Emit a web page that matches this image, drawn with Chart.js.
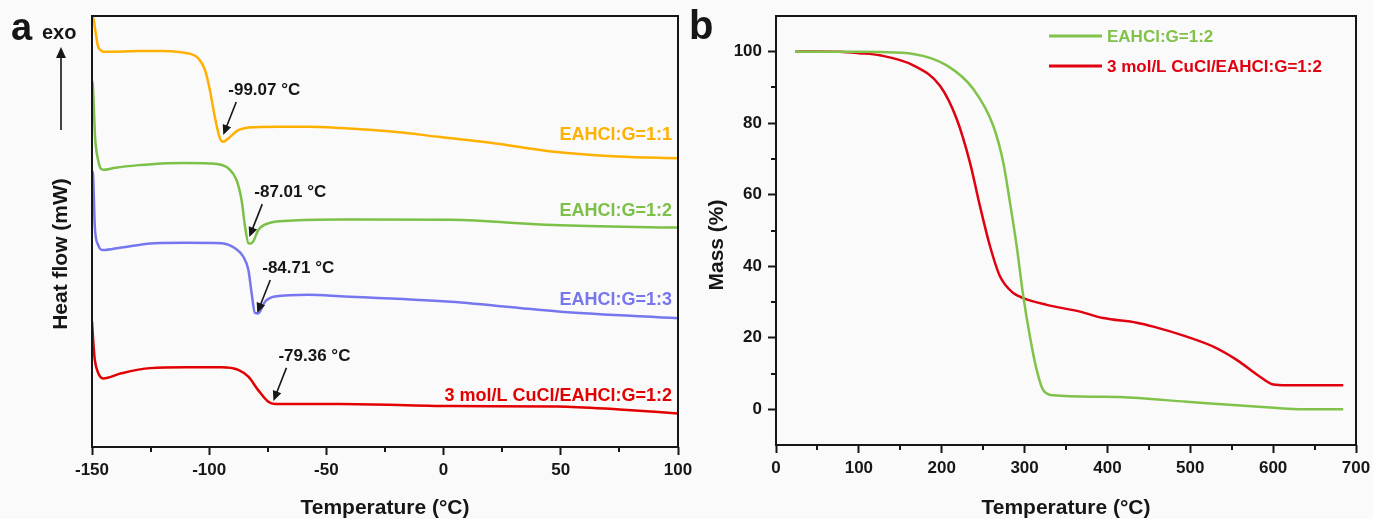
<!DOCTYPE html>
<html>
<head>
<meta charset="utf-8">
<script src="https://cdn.jsdelivr.net/npm/chart.js@4.4.0/dist/chart.umd.min.js"></script>
<style>
    body { margin: 0; background: #fafafa; }
    #wrap { position: relative; width: 1373px; height: 519px; }
    canvas { position: absolute; top: 0; }
    #dscChart { left: 0; }
    #tgaChart { left: 686px; }
</style>
</head>
<body>
<div id="wrap">
    <canvas id="dscChart" width="700" height="519"></canvas>
    <canvas id="tgaChart" width="687" height="519"></canvas>
</div>
<script>
// ---- (a) DSC data: temperature (°C) and heat flow (arb. units, 0-100 of the panel) ----
const dscLabels = ['EAHCl:G=1:1', 'EAHCl:G=1:2', 'EAHCl:G=1:3', '3 mol/L CuCl/EAHCl:G=1:2'];
const dscColors = ['#FFB000', '#7CC048', '#7676EE', '#E30000'];

const temp11 = [-150, -149.2, -148.6, -147.4, -146.2, -145.3, -140, -130, -120, -112, -108, -104.7, -101.8, -99.7, -97.6, -95.4, -94, -91.9, -87.6, -80.5, -70, -57.7, -44, -20, -1.3, 20, 47, 74.4, 100];
const flow11 = [100, 99, 96.7, 92.9, 92, 91.7, 91.7, 91.9, 91.9, 91.6, 91.2, 90.2, 87.5, 82.8, 76.6, 71.6, 70.8, 71.6, 73.5, 74.2, 74.3, 74.3, 74, 73.1, 71.9, 70.6, 68.5, 67.4, 67];

const temp12 = [-150, -149.6, -149.2, -148.7, -147.4, -146.5, -145.3, -140, -130, -120, -110, -100, -95, -91.9, -88.3, -86.2, -84.7, -83.3, -82.3, -81.2, -79.1, -74.8, -66.2, -44, 3, 47, 100];
const flow12 = [85, 83.6, 78.5, 72, 66.6, 64.8, 64.3, 64.8, 65.4, 65.8, 65.9, 65.8, 65.5, 64.7, 61.9, 57.3, 51.1, 47.3, 47.2, 47.7, 50.3, 51.9, 52.5, 52.8, 52.7, 51.5, 50.9];

const temp13 = [-150, -149.6, -148.8, -147.4, -145.3, -137.5, -123.2, -110, -94.7, -89, -85.5, -83.3, -81.9, -80.5, -79.1, -76.2, -72, -57.7, -44, 3, 50, 100];
const flow13 = [64, 63.5, 51.1, 46.9, 45.7, 46.3, 47.3, 47.4, 47.3, 46.1, 44.2, 41.1, 35.7, 31.1, 31, 33.7, 34.9, 35.3, 35, 33.7, 31.4, 29.9];

const tempCu = [-150, -149.4, -148.8, -147.3, -145.3, -137.5, -125.2, -110, -94.7, -87.6, -83.3, -79.1, -74.8, -71.9, -60, -44, 3, 48.7, 75, 100];
const flowCu = [29.2, 24, 20.2, 17.1, 15.9, 17.1, 18.3, 18.5, 18.5, 17.9, 16.3, 13.2, 10.5, 10, 10, 10, 9.5, 9.4, 8.7, 7.8];

const dscTicks = [-150, -100, -50, 0, 50, 100];
const dscMinorTicks = [-125, -75, -25, 25, 75];
// where each curve label sits (heat flow units)
const dscLabelY = [72.4, 54.8, 34.1, 11.9];
// arrow tips for the Tg annotations
const dscNotes = [
    { text: '-99.07 °C', x: -94.0, y: 72.4 },
    { text: '-87.01 °C', x: -82.9, y: 48.7 },
    { text: '-84.71 °C', x: -79.5, y: 31.1 },
    { text: '-79.36 °C', x: -72.6, y: 10.7 }
];

// ---- (b) TGA data: temperature (°C) and mass (%) ----
const tgaLabels = ['EAHCl:G=1:2', '3 mol/L CuCl/EAHCl:G=1:2'];
const tgaColors = ['#80C24A', '#E00010'];

const tgaTempG = [22.9, 60, 97.4, 125.5, 165.7, 206, 238.1, 262.2, 274.3, 282.4, 290.5, 298.5, 306.5, 314.6, 322.6, 334.7, 391, 415.2, 495.7, 556, 596.2, 636.4, 684.6];
const tgaMassG = [100, 100, 100, 99.9, 99.4, 96.2, 89.6, 79.3, 69, 57.8, 45.6, 31.5, 20.3, 11, 5.3, 3.9, 3.5, 3.4, 2.1, 1.1, 0.5, 0, 0];

const tgaTempCu = [22.9, 50, 77.2, 100, 125.5, 165.7, 197.9, 218.1, 234.1, 246.2, 258.3, 270.3, 286.4, 298.5, 326.7, 366.9, 395, 435.3, 455.4, 495.7, 527.8, 556, 584.1, 600.2, 616.3, 684.6];
const tgaMassCu = [100, 100.1, 100, 99.6, 99, 96.2, 90.5, 81.2, 69, 56.8, 45.6, 37.2, 32.5, 31.1, 29.2, 27.3, 25.5, 24.2, 23.1, 20.3, 17.5, 13.8, 9.1, 6.9, 6.7, 6.7];

const tgaXTicks = [0, 100, 200, 300, 400, 500, 600, 700];
const tgaXMinor = [50, 150, 250, 350, 450, 550, 650];
const tgaYTicks = [0, 20, 40, 60, 80, 100];
const tgaYMinor = [10, 30, 50, 70, 90];

// ---- shared look ----
const FONT = '"Liberation Sans", Arial, sans-serif';
const INK = '#161616';

function pairs(xs, ys) {
    return xs.map((x, i) => ({ x: x, y: ys[i] }));
}

function lineSet(label, xs, ys, color) {
    return {
        label: label,
        data: pairs(xs, ys),
        borderColor: color,
        backgroundColor: color,
        borderWidth: 2.5,
        pointRadius: 0,
        cubicInterpolationMode: 'monotone',
        fill: false
    };
}

function fixedTicks(values) {
    return scale => { scale.ticks = values.map(v => ({ value: v })); };
}

function tickGrid() {
    return {
        display: true,
        drawOnChartArea: false,
        drawTicks: true,
        tickLength: 8,
        tickWidth: 2,
        tickColor: INK
    };
}

function drawMinorTicks(chart, scaleId, values, len) {
    const s = chart.scales[scaleId];
    const ctx = chart.ctx;
    ctx.save();
    ctx.strokeStyle = INK;
    ctx.lineWidth = 2;
    values.forEach(v => {
        const p = Math.round(s.getPixelForValue(v));
        ctx.beginPath();
        if (s.isHorizontal()) {
            ctx.moveTo(p, s.top);
            ctx.lineTo(p, s.top + len);
        } else {
            ctx.moveTo(s.right, p);
            ctx.lineTo(s.right - len, p);
        }
        ctx.stroke();
    });
    ctx.restore();
}

function drawFrame(chart) {
    const a = chart.chartArea;
    const ctx = chart.ctx;
    ctx.save();
    ctx.strokeStyle = INK;
    ctx.lineWidth = 2;
    ctx.strokeRect(a.left, a.top, a.right - a.left, a.bottom - a.top);
    ctx.restore();
}

function drawText(ctx, text, x, y, font, color, align, rotate) {
    ctx.save();
    ctx.font = font;
    ctx.fillStyle = color || INK;
    ctx.textAlign = align || 'left';
    ctx.textBaseline = 'middle';
    ctx.translate(x, y);
    if (rotate) ctx.rotate(rotate);
    ctx.fillText(text, 0, 0);
    ctx.restore();
}

function drawArrow(ctx, x1, y1, x2, y2, head) {
    const ang = Math.atan2(y2 - y1, x2 - x1);
    ctx.save();
    ctx.strokeStyle = INK;
    ctx.fillStyle = INK;
    ctx.lineWidth = 1.6;
    ctx.beginPath();
    ctx.moveTo(x1, y1);
    ctx.lineTo(x2 - Math.cos(ang) * head * 0.8, y2 - Math.sin(ang) * head * 0.8);
    ctx.stroke();
    ctx.beginPath();
    ctx.moveTo(x2, y2);
    ctx.lineTo(x2 - Math.cos(ang) * head + Math.sin(ang) * head * 0.45, y2 - Math.sin(ang) * head - Math.cos(ang) * head * 0.45);
    ctx.lineTo(x2 - Math.cos(ang) * head - Math.sin(ang) * head * 0.45, y2 - Math.sin(ang) * head + Math.cos(ang) * head * 0.45);
    ctx.closePath();
    ctx.fill();
    ctx.restore();
}

// ---- panel (a) extras: frame, minor ticks, labels, arrows ----
const dscDecor = {
    id: 'dscDecor',
    afterDraw(chart) {
        const ctx = chart.ctx;
        const xs = chart.scales.x;
        const ys = chart.scales.y;
        const a = chart.chartArea;
        drawFrame(chart);
        drawMinorTicks(chart, 'x', dscMinorTicks, 5);

        // curve names at the right end
        chart.data.datasets.forEach((ds, i) => {
            drawText(ctx, ds.label, a.right - 6, ys.getPixelForValue(dscLabelY[i]), 'bold 18px ' + FONT, ds.borderColor, 'right');
        });

        // Tg arrows
        dscNotes.forEach(n => {
            const tx = xs.getPixelForValue(n.x);
            const ty = ys.getPixelForValue(n.y);
            const sx = tx + 13, sy = ty - 33;
            drawArrow(ctx, sx, sy, tx, ty, 10);
            drawText(ctx, n.text, sx - 8, sy - 12, 'bold 17px ' + FONT, INK, 'left');
        });

        // axis titles and panel letter
        drawText(ctx, 'Temperature (°C)', (a.left + a.right) / 2, 508, 'bold 21px ' + FONT, INK, 'center');
        drawText(ctx, 'Heat flow (mW)', 61, 254, 'bold 21px ' + FONT, INK, 'center', -Math.PI / 2);
        drawText(ctx, 'a', 11, 30, 'bold 38px ' + FONT, INK, 'left');
        drawText(ctx, 'exo', 42, 33, 'bold 20px ' + FONT, INK, 'left');
        drawArrow(ctx, 61, 130, 61, 47, 11);
    }
};

new Chart(document.getElementById('dscChart'), {
    type: 'line',
    data: {
        datasets: [
            lineSet(dscLabels[0], temp11, flow11, dscColors[0]),
            lineSet(dscLabels[1], temp12, flow12, dscColors[1]),
            lineSet(dscLabels[2], temp13, flow13, dscColors[2]),
            lineSet(dscLabels[3], tempCu, flowCu, dscColors[3])
        ]
    },
    options: {
        responsive: false,
        animation: false,
        devicePixelRatio: 1,
        layout: { padding: { left: 92, top: 16, right: 22, bottom: 0 } },
        plugins: { legend: { display: false }, tooltip: { enabled: false } },
        scales: {
            x: {
                type: 'linear',
                min: -150,
                max: 100,
                afterBuildTicks: fixedTicks(dscTicks),
                afterFit: s => { s.height = 72; s.paddingLeft = 0; s.paddingRight = 0; },
                grid: tickGrid(),
                border: { display: false },
                ticks: { color: INK, padding: 5, maxRotation: 0, font: { family: FONT, size: 17, weight: 'bold' } }
            },
            y: {
                display: false,
                min: 0,
                max: 100
            }
        }
    },
    plugins: [dscDecor]
});

// ---- panel (b) extras: frame, minor ticks, legend, titles ----
const tgaDecor = {
    id: 'tgaDecor',
    afterDraw(chart) {
        const ctx = chart.ctx;
        const a = chart.chartArea;
        drawFrame(chart);
        drawMinorTicks(chart, 'x', tgaXMinor, 5);
        drawMinorTicks(chart, 'y', tgaYMinor, 5);

        // legend inside the plot
        chart.data.datasets.forEach((ds, i) => {
            const y = 36 + i * 30;
            ctx.save();
            ctx.strokeStyle = ds.borderColor;
            ctx.lineWidth = 3;
            ctx.beginPath();
            ctx.moveTo(a.left + 273, y);
            ctx.lineTo(a.left + 326, y);
            ctx.stroke();
            ctx.restore();
            drawText(ctx, ds.label, a.left + 331, y + 1, 'bold 17px ' + FONT, ds.borderColor, 'left');
        });

        drawText(ctx, 'Temperature (°C)', (a.left + a.right) / 2, 508, 'bold 21px ' + FONT, INK, 'center');
        drawText(ctx, 'Mass (%)', 31, 245, 'bold 21px ' + FONT, INK, 'center', -Math.PI / 2);
        drawText(ctx, 'b', 3, 28, 'bold 40px ' + FONT, INK, 'left');
    }
};

new Chart(document.getElementById('tgaChart'), {
    type: 'line',
    data: {
        datasets: [
            lineSet(tgaLabels[0], tgaTempG, tgaMassG, tgaColors[0]),
            lineSet(tgaLabels[1], tgaTempCu, tgaMassCu, tgaColors[1])
        ]
    },
    options: {
        responsive: false,
        animation: false,
        devicePixelRatio: 1,
        layout: { padding: { left: 0, top: 16, right: 17, bottom: 0 } },
        plugins: { legend: { display: false }, tooltip: { enabled: false } },
        scales: {
            x: {
                type: 'linear',
                min: 0,
                max: 700,
                afterBuildTicks: fixedTicks(tgaXTicks),
                afterFit: s => { s.height = 74; s.paddingLeft = 0; s.paddingRight = 0; },
                grid: tickGrid(),
                border: { display: false },
                ticks: { color: INK, padding: 5, maxRotation: 0, font: { family: FONT, size: 17, weight: 'bold' } }
            },
            y: {
                type: 'linear',
                min: -10,
                max: 110,
                afterBuildTicks: fixedTicks(tgaYTicks),
                afterFit: s => { s.width = 90; s.paddingTop = 0; s.paddingBottom = 0; },
                grid: tickGrid(),
                border: { display: false },
                ticks: { color: INK, padding: 6, font: { family: FONT, size: 17, weight: 'bold' } }
            }
        }
    },
    plugins: [tgaDecor]
});
</script>
</body>
</html>
